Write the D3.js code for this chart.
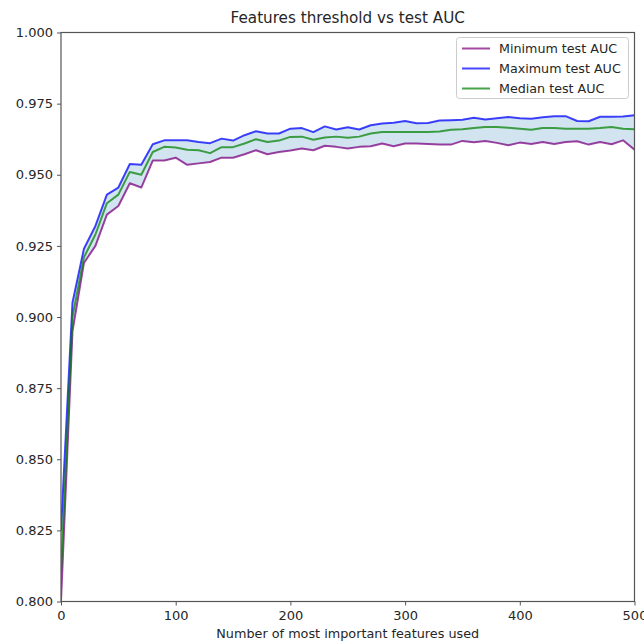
<!DOCTYPE html>
<html>
<head>
<meta charset="utf-8">
<script src="https://cdn.jsdelivr.net/npm/d3@7"></script>
<style>
  html, body { margin: 0; padding: 0; background: #fff; }
  svg { display: block; font-family: "DejaVu Sans", sans-serif; }
</style>
</head>
<body>
<svg id="chart" width="644" height="644"></svg>
<script>
// ---- data ----
const featureCounts = [0,10,20,30,40,50,60,70,80,90,100,110,120,130,140,150,160,170,180,190,200,
  210,220,230,240,250,260,270,280,290,300,310,320,330,340,350,360,370,380,390,400,
  410,420,430,440,450,460,470,480,490,500];
const minAUC = [0.800,0.895,0.919,0.925,0.936,0.939,0.947,0.9455,0.955,0.955,0.956,0.9535,0.954,0.9545,0.956,0.956,0.9572,0.9586,0.9572,0.958,0.9585,
  0.9592,0.9586,0.9602,0.9598,0.9592,0.9598,0.960,0.961,0.960,0.961,0.961,0.9608,0.9606,0.9606,0.9619,0.9614,0.9619,0.9612,0.9604,0.9613,
  0.9608,0.9615,0.9608,0.9615,0.9618,0.9606,0.9615,0.9607,0.9621,0.9588];
const maxAUC = [0.825,0.905,0.924,0.932,0.943,0.9455,0.9538,0.9535,0.9607,0.9621,0.9621,0.9621,0.9615,0.9611,0.9627,0.962,0.9639,0.9653,0.9645,0.9645,0.9662,
  0.9664,0.965,0.967,0.9659,0.9667,0.9659,0.9674,0.968,0.9683,0.9689,0.9681,0.9682,0.9691,0.9692,0.9693,0.970,0.9694,0.9699,0.9703,0.9699,
  0.9697,0.9702,0.9706,0.9706,0.9689,0.9688,0.9704,0.9704,0.9705,0.9709];
const medianAUC = [0.810,0.900,0.921,0.929,0.940,0.943,0.951,0.950,0.958,0.9598,0.9596,0.9588,0.9586,0.9576,0.9597,0.9597,0.961,0.9625,0.9615,0.962,0.9633,
  0.9634,0.9623,0.9631,0.9634,0.963,0.9634,0.9645,0.965,0.965,0.965,0.965,0.965,0.9652,0.9658,0.966,0.9664,0.9668,0.9668,0.9665,0.9662,
  0.9658,0.9664,0.9664,0.9662,0.9662,0.9662,0.9664,0.9668,0.9662,0.966];
const xTicks = [0,100,200,300,400,500];
const yTicks = [0.800,0.825,0.850,0.875,0.900,0.925,0.950,0.975,1.000];
const seriesNames = ["Minimum test AUC","Maximum test AUC","Median test AUC"];
const seriesColors = ["#800080","#0000ff","#008000"];

// ---- layout ----
const svg = d3.select("#chart");
const L = 61, T = 32.5, R = 634.5, B = 601.5;
const x = d3.scaleLinear().domain([0,500]).range([L,R]);
const y = d3.scaleLinear().domain([0.8,1.0]).range([B,T]);
const textColor = "#262626";

svg.append("defs").append("clipPath").attr("id","plotclip")
  .append("rect").attr("x",L).attr("y",T).attr("width",R-L).attr("height",B-T);

const g = svg.append("g").attr("clip-path","url(#plotclip)");

const rows = featureCounts.map((f,i)=>({f, mn:minAUC[i], mx:maxAUC[i], md:medianAUC[i]}));

// fill between min & max
g.append("path").datum(rows)
  .attr("d", d3.area().x(d=>x(d.f)).y0(d=>y(d.mn)).y1(d=>y(d.mx)))
  .attr("fill","#1f77b4").attr("fill-opacity",0.2)
  .attr("stroke","#1f77b4").attr("stroke-opacity",0.2).attr("stroke-width",1);

const seriesData = [minAUC, maxAUC, medianAUC];
seriesData.forEach((vals, k) => {
  g.append("path").datum(vals)
    .attr("d", d3.line().x((d,i)=>x(featureCounts[i])).y(d=>y(d)))
    .attr("fill","none").attr("stroke",seriesColors[k]).attr("stroke-opacity",0.72)
    .attr("stroke-width",2).attr("stroke-linejoin","round");
});

// axes
const xAxis = svg.append("g").attr("transform",`translate(0,${B})`)
  .call(d3.axisBottom(x).tickValues(xTicks).tickFormat(d3.format("d")).tickSize(4).tickPadding(5));
const yAxis = svg.append("g").attr("transform",`translate(${L},0)`)
  .call(d3.axisLeft(y).tickValues(yTicks).tickFormat(d3.format(".3f")).tickSize(4).tickPadding(4));
[xAxis,yAxis].forEach(a=>{
  a.select(".domain").remove();
  a.selectAll("line").attr("stroke","#555").attr("stroke-width",1);
  a.selectAll("text").attr("fill",textColor).style("font-size","13px").style("font-family","DejaVu Sans");
});

// spines
svg.append("rect").attr("x",L).attr("y",T).attr("width",R-L).attr("height",B-T)
  .attr("fill","none").attr("stroke","#555").attr("stroke-width",1.2);

// title & labels
svg.append("text").attr("x",(L+R)/2).attr("y",23).attr("text-anchor","middle")
  .attr("fill",textColor).style("font-size","15.2px").text("Features threshold vs test AUC");
svg.append("text").attr("x",(L+R)/2).attr("y",638).attr("text-anchor","middle")
  .attr("fill",textColor).style("font-size","12.8px").text("Number of most important features used");

// legend
const lg = svg.append("g");
lg.append("rect").attr("x",456.5).attr("y",37.5).attr("width",172).attr("height",61).attr("rx",3)
  .attr("fill","#fff").attr("fill-opacity",0.85).attr("stroke","#ccc").attr("stroke-width",1);
seriesNames.forEach((n,k)=>{
  const yy = 48.5 + k*20;
  lg.append("line").attr("x1",462).attr("x2",490).attr("y1",yy).attr("y2",yy)
    .attr("stroke",seriesColors[k]).attr("stroke-opacity",0.72).attr("stroke-width",2);
  lg.append("text").attr("x",499).attr("y",yy).attr("dy","0.35em").attr("fill",textColor)
    .style("font-size","12.7px").text(n);
});
</script>
</body>
</html>
